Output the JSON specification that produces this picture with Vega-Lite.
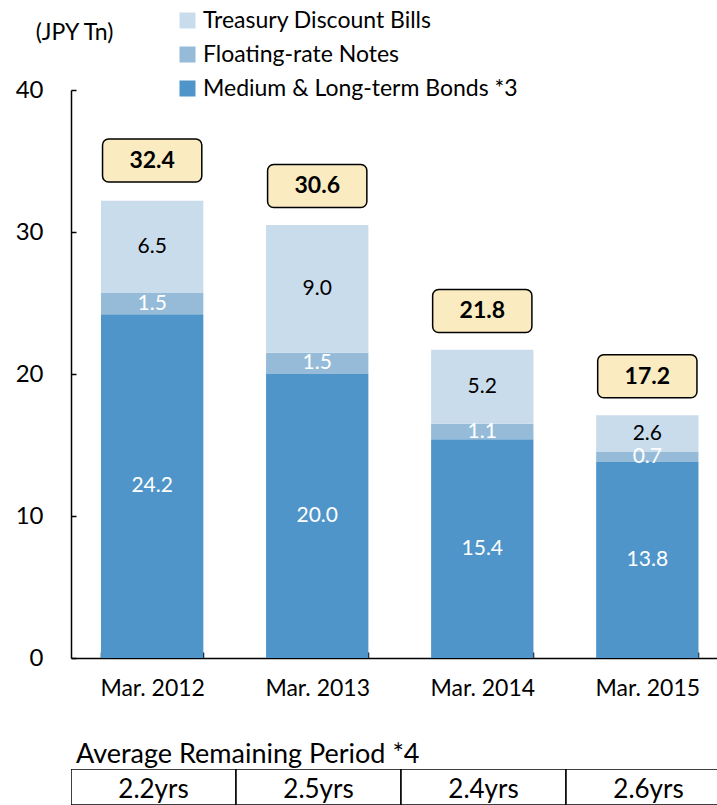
{
  "$schema": "https://vega.github.io/schema/vega-lite/v6.json",
  "padding": {"left": 15, "top": 9, "right": 0, "bottom": 0},
  "background": "white",
  "config": {"font": "Lato", "view": {"stroke": null}, "concat": {"spacing": 41}},
  "datasets": {
    "debt": [
      {"date": "Mar. 2012", "type": "Medium & Long-term Bonds", "value": 24.2, "order": 1},
      {"date": "Mar. 2012", "type": "Floating-rate Notes", "value": 1.5, "order": 2},
      {"date": "Mar. 2012", "type": "Treasury Discount Bills", "value": 6.5, "order": 3},
      {"date": "Mar. 2013", "type": "Medium & Long-term Bonds", "value": 20.0, "order": 1},
      {"date": "Mar. 2013", "type": "Floating-rate Notes", "value": 1.5, "order": 2},
      {"date": "Mar. 2013", "type": "Treasury Discount Bills", "value": 9.0, "order": 3},
      {"date": "Mar. 2014", "type": "Medium & Long-term Bonds", "value": 15.4, "order": 1},
      {"date": "Mar. 2014", "type": "Floating-rate Notes", "value": 1.1, "order": 2},
      {"date": "Mar. 2014", "type": "Treasury Discount Bills", "value": 5.2, "order": 3},
      {"date": "Mar. 2015", "type": "Medium & Long-term Bonds", "value": 13.8, "order": 1},
      {"date": "Mar. 2015", "type": "Floating-rate Notes", "value": 0.7, "order": 2},
      {"date": "Mar. 2015", "type": "Treasury Discount Bills", "value": 2.6, "order": 3}
    ],
    "totals": [
      {"date": "Mar. 2012", "total": 32.4},
      {"date": "Mar. 2013", "total": 30.6},
      {"date": "Mar. 2014", "total": 21.8},
      {"date": "Mar. 2015", "total": 17.2}
    ],
    "period": [
      {"date": "Mar. 2012", "period": "2.2yrs"},
      {"date": "Mar. 2013", "period": "2.5yrs"},
      {"date": "Mar. 2014", "period": "2.4yrs"},
      {"date": "Mar. 2015", "period": "2.6yrs"}
    ]
  },
  "vconcat": [
    {
      "width": 647,
      "height": 568,
      "encoding": {
        "x": {
          "field": "date", "type": "nominal", "sort": null,
          "scale": {"paddingInner": 0.38, "paddingOuter": 0.15, "align": 0.606},
          "axis": {
            "title": null, "labelAngle": 0, "labelFontSize": 23, "labelColor": "black",
            "labelPadding": 25, "tickBand": "extent", "tickSize": -6, "tickWidth": 1.5,
            "tickColor": "black", "domainColor": "black", "domainWidth": 1.5
          }
        }
      },
      "layer": [
        {
          "data": {"name": "debt"},
          "mark": {"type": "bar"},
          "encoding": {
            "y": {
              "field": "value", "type": "quantitative", "stack": "zero",
              "scale": {"domain": [0, 40]},
              "axis": {
                "title": "(JPY Tn)", "titleAngle": 0, "titleX": 3, "titleY": -58,
                "titleAlign": "center", "titleBaseline": "middle", "titleFontSize": 23,
                "titleFontWeight": "normal", "titleColor": "black",
                "values": [0, 10, 20, 30, 40], "grid": false,
                "labelFontSize": 24, "labelColor": "black", "labelPadding": 33,
                "tickSize": -5, "tickWidth": 1.5, "tickColor": "black",
                "domainColor": "black", "domainWidth": 1.5
              }
            },
            "color": {
              "field": "type", "type": "nominal",
              "scale": {
                "domain": ["Treasury Discount Bills", "Floating-rate Notes", "Medium & Long-term Bonds"],
                "range": ["#C9DCEC", "#95BBD9", "#4F95C9"]
              },
              "legend": {
                "title": null, "orient": "none", "legendX": 105, "legendY": -81,
                "padding": 0, "symbolType": "square", "symbolSize": 256, "symbolStrokeWidth": 0,
                "labelFontSize": 23, "labelColor": "black", "labelOffset": 4, "rowPadding": 10,
                "labelLimit": 400,
                "labelExpr": "datum.label === 'Medium & Long-term Bonds' ? 'Medium & Long-term Bonds  *3' : datum.label"
              }
            },
            "order": {"field": "order", "type": "quantitative"}
          }
        },
        {
          "data": {"name": "debt"},
          "mark": {"type": "text", "fontSize": 21, "baseline": "middle"},
          "encoding": {
            "y": {"field": "value", "type": "quantitative", "stack": "zero", "bandPosition": 0.5},
            "order": {"field": "order", "type": "quantitative"},
            "text": {"field": "value", "type": "quantitative", "format": ".1f"},
            "color": {
              "condition": {"test": "datum.type === 'Treasury Discount Bills'", "value": "black"},
              "value": "white"
            }
          }
        },
        {
          "data": {"name": "totals"},
          "mark": {
            "type": "bar", "fill": "#FAEBC0", "stroke": "black", "strokeWidth": 1.5,
            "cornerRadius": 6, "yOffset": -16, "y2Offset": -59, "width": {"band": 0.97}
          },
          "encoding": {
            "y": {"field": "total", "type": "quantitative"},
            "y2": {"field": "total"}
          }
        },
        {
          "data": {"name": "totals"},
          "mark": {"type": "text", "fontSize": 23, "fontWeight": "bold", "baseline": "middle", "yOffset": -37, "color": "black"},
          "encoding": {
            "y": {"field": "total", "type": "quantitative"},
            "text": {"field": "total", "type": "quantitative", "format": ".1f"}
          }
        }
      ]
    },
    {
      "width": 647,
      "height": 36,
      "data": {"name": "period"},
      "title": {"text": "Average Remaining Period  *4", "anchor": "start", "fontSize": 27, "fontWeight": "normal", "color": "black", "offset": 0, "dx": 5},
      "encoding": {
        "x": {
          "field": "date", "type": "nominal", "sort": null,
          "scale": {"range": [0, 660], "paddingInner": 0, "paddingOuter": 0},
          "axis": null
        }
      },
      "layer": [
        {"mark": {"type": "bar", "fill": "white", "stroke": "black", "strokeWidth": 1.5, "clip": true}},
        {"mark": {"type": "text", "fontSize": 26, "baseline": "alphabetic", "dy": 11, "color": "black"}, "encoding": {"text": {"field": "period"}}}
      ]
    }
  ]
}
